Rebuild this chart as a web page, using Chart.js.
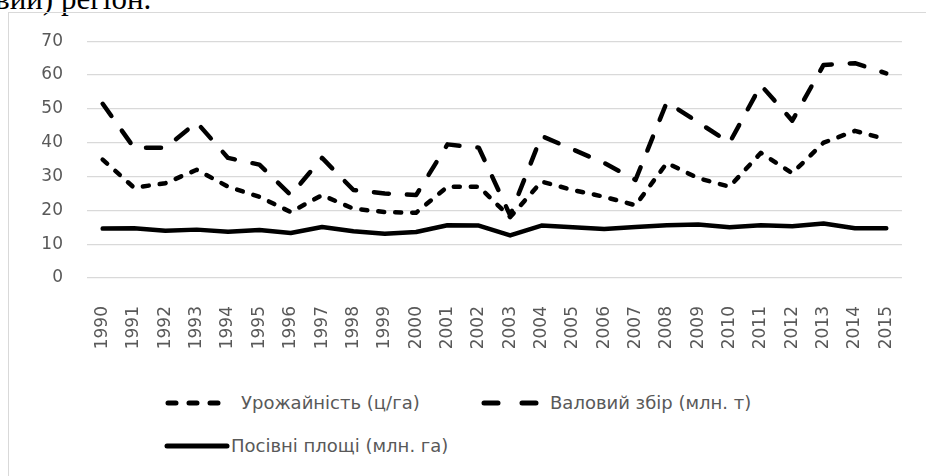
<!DOCTYPE html>
<html>
<head>
<meta charset="utf-8">
<script src="https://cdn.jsdelivr.net/npm/chart.js@4"></script>
<style>
  body { margin: 0; background: #fff; width: 926px; height: 476px; overflow: hidden; position: relative; }
  #head { position: absolute; left: -5px; top: -16px; font-family: "Liberation Serif", serif; font-size: 31px; line-height: 30px; color: #000; white-space: nowrap; }
  #frame { position: absolute; left: 8px; top: 12px; width: 940px; height: 500px; border: 1.5px solid #d9d9d9; box-sizing: border-box; }
  #wrap { position: absolute; left: 0; top: -6px; width: 918px; height: 356px; }
  .leg { position: absolute; font-family: "DejaVu Sans", sans-serif; font-size: 18px; color: #595959; display: flex; align-items: center; white-space: nowrap; }
  .leg svg { display: block; }
</style>
</head>
<body>
<div id="head">вий) регіон.</div>
<div id="frame">
  <div id="wrap"><canvas id="chart"></canvas></div>
  <div class="leg" style="left:155px; top:379px;">
    <svg width="66" height="10"><line x1="4" y1="5" x2="62" y2="5" stroke="#000" stroke-width="5" stroke-linecap="round" stroke-dasharray="8 13"/></svg>
    <span style="margin-left:11px">Урожайність (ц/га)</span>
  </div>
  <div class="leg" style="left:471px; top:379px;">
    <svg width="60" height="10"><line x1="4" y1="5" x2="56" y2="5" stroke="#000" stroke-width="5" stroke-linecap="round" stroke-dasharray="14 24"/></svg>
    <span style="margin-left:10px">Валовий збір (млн. т)</span>
  </div>
  <div class="leg" style="left:155px; top:422px;">
    <svg width="66" height="10"><line x1="3" y1="5" x2="63" y2="5" stroke="#000" stroke-width="5" stroke-linecap="round"/></svg>
    <span style="margin-left:1px">Посівні площі (млн. га)</span>
  </div>
</div>
<script>
const years = ['1990','1991','1992','1993','1994','1995','1996','1997','1998','1999','2000','2001','2002','2003','2004','2005','2006','2007','2008','2009','2010','2011','2012','2013','2014','2015'];
const urozhainist = [35, 26.7, 28, 32, 27, 24, 19.5, 24.5, 20.5, 19.5, 19.3, 27, 27, 18, 28.5, 26, 24, 21.5, 34, 29.5, 27, 37, 31, 40, 43.5, 41];
const valovyiZbir = [51.5, 38.5, 38.5, 46, 35.5, 33.5, 24.5, 35.5, 26, 25, 24.5, 39.5, 38.5, 18.5, 42, 38, 34, 29, 52, 46, 40, 57, 46.5, 63, 63.5, 60.5];
const posivniPloshchi = [14.6, 14.7, 14, 14.3, 13.7, 14.2, 13.3, 15.1, 13.8, 13.1, 13.6, 15.6, 15.5, 12.6, 15.5, 15, 14.5, 15.1, 15.6, 15.8, 15, 15.6, 15.3, 16.1, 14.7, 14.7];
const yTicks = [0, 10, 20, 30, 40, 50, 60, 70];

const tickFont = { family: 'DejaVu Sans', size: 17 };

new Chart(document.getElementById('chart'), {
  type: 'line',
  data: {
    labels: years,
    datasets: [
      {
        label: 'Урожайність (ц/га)',
        data: urozhainist,
        borderColor: '#000',
        borderWidth: 4.5,
        borderDash: [6, 11],
        borderCapStyle: 'round',
        borderJoinStyle: 'round',
        pointRadius: 0,
        tension: 0
      },
      {
        label: 'Валовий збір (млн. т)',
        data: valovyiZbir,
        borderColor: '#000',
        borderWidth: 4.5,
        borderDash: [15, 18],
        borderCapStyle: 'round',
        borderJoinStyle: 'round',
        pointRadius: 0,
        tension: 0
      },
      {
        label: 'Посівні площі (млн. га)',
        data: posivniPloshchi,
        borderColor: '#000',
        borderWidth: 4.5,
        borderCapStyle: 'round',
        borderJoinStyle: 'round',
        pointRadius: 0,
        tension: 0
      }
    ]
  },
  options: {
    responsive: true,
    maintainAspectRatio: false,
    animation: false,
    layout: { padding: { top: 23, right: 17, left: 0, bottom: 0 } },
    plugins: {
      legend: { display: false },
      tooltip: { enabled: false }
    },
    scales: {
      x: {
        offset: true,
        grid: { display: false },
        border: { display: false },
        ticks: { color: '#595959', font: tickFont, minRotation: 90, maxRotation: 90, padding: 20, autoSkip: false },
        afterFit: s => { s.height = 85; }
      },
      y: {
        min: yTicks[0],
        max: yTicks[yTicks.length - 1],
        afterBuildTicks: s => { s.ticks = yTicks.map(v => ({ value: v })); },
        grid: { color: '#d9d9d9', lineWidth: 1.3, drawTicks: false },
        border: { display: false },
        ticks: { color: '#595959', font: tickFont, padding: 24 },
        afterFit: s => { s.width = 78; }
      }
    }
  }
});
</script>
</body>
</html>
